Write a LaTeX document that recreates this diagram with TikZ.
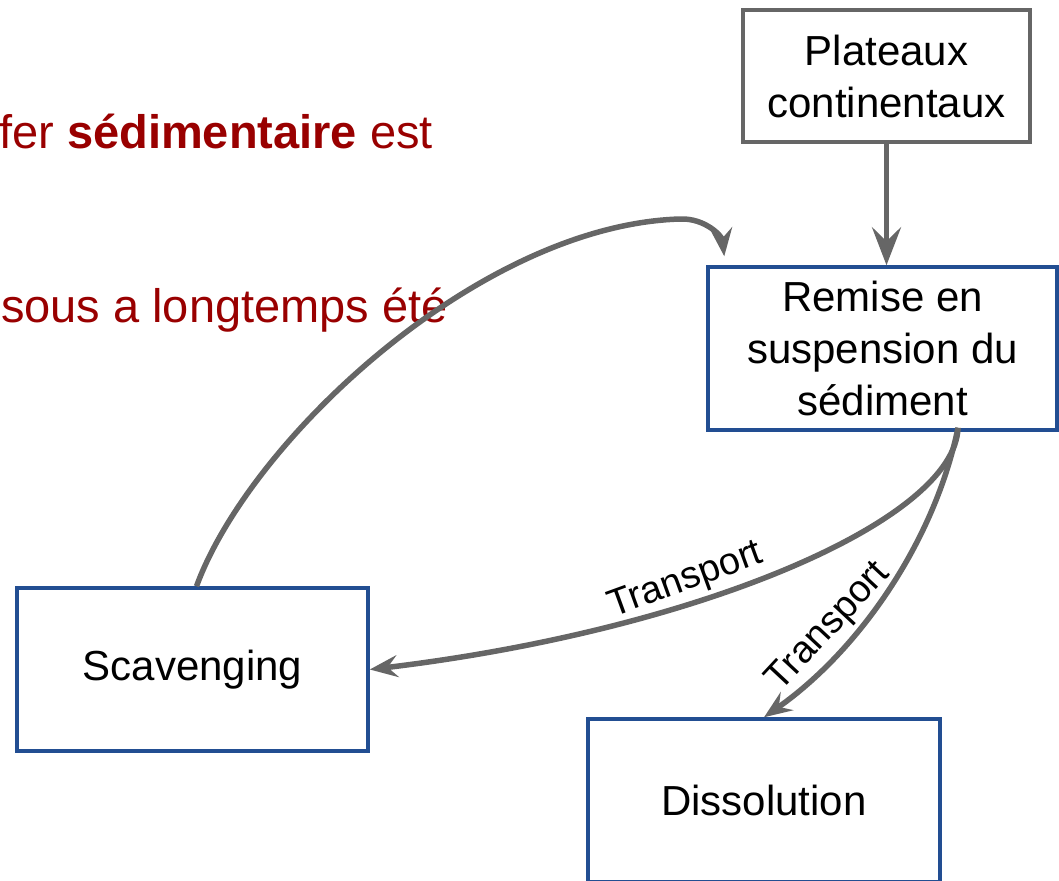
\documentclass[tikz,border=0pt]{standalone}
\usepackage{fontspec}
\setmainfont{Liberation Sans}
\usetikzlibrary{arrows.meta,calc}
\definecolor{boxblue}{RGB}{34,78,146}
\definecolor{linegray}{RGB}{102,102,102}
\definecolor{darkred}{RGB}{153,0,0}
\tikzset{
  box/.style={draw=boxblue, line width=3.5pt, rectangle, inner sep=0pt, align=center,
    font=\fontsize{42}{52}\selectfont, text=black},
  graybox/.style={box, draw=linegray},
  conn/.style={draw=linegray, line width=5.5pt,
    -{Stealth[length=28pt,width=22pt,inset=10pt]}},
  bigconn/.style={conn, -{Stealth[length=38pt,width=29pt,inset=14pt]}},
  lbl/.style={font=\fontsize{38}{44}\selectfont, inner sep=0pt},
  redtxt/.style={font=\fontsize{47}{56}\selectfont, text=darkred, inner sep=0pt}
}
\begin{document}
\begin{tikzpicture}[x=1pt,y=-1pt]
\useasboundingbox (0,0) rectangle (1059,880);
\clip (0,0) rectangle (1059,880);

% red background text
\node[redtxt, anchor=base east] (t1) at (433,148) {fer \textbf{sédimentaire} est};
\node[redtxt, anchor=base east] (t2) at (448,322) {sous a longtemps été};

% boxes
\node[graybox, minimum width=287pt, minimum height=132pt] (plat) at (886.5,76) {Plateaux\\continentaux};
\node[box, minimum width=349pt, minimum height=163pt] (rem) at (882.5,348.5) {Remise en\\suspension du\\sédiment};
\node[box, minimum width=351pt, minimum height=163pt] (scav) at (192.5,669.5) {Scavenging};
\node[box, minimum width=352pt, minimum height=163pt] (diss) at (764,800.5) {Dissolution};

% connector coordinates
\coordinate (rb) at ($(rem.south)+(75.5,-4)$);
\coordinate (rtl) at ($(rem.north west)+(18,-9)$);
\coordinate (st) at ($(scav.north)+(4,0)$);

% connectors
\draw[bigconn] (plat.south) -- (plat.south |- rem.north);
\draw[conn] (st) .. controls (250,440) and (480,225) .. (680,219)
   .. controls (705,218) and (722,236) .. (rtl);
\draw[conn] (rb) .. controls (955,520) and (700,630) .. (scav.east);
\draw[conn] (rb) .. controls (935,540) and (860,650) .. (diss.north);

% labels
\node[lbl, rotate=20] (l1) at (686,581) {Transport};
\node[lbl, rotate=47] (l2) at (829,627) {Transport};
\end{tikzpicture}
\end{document}
